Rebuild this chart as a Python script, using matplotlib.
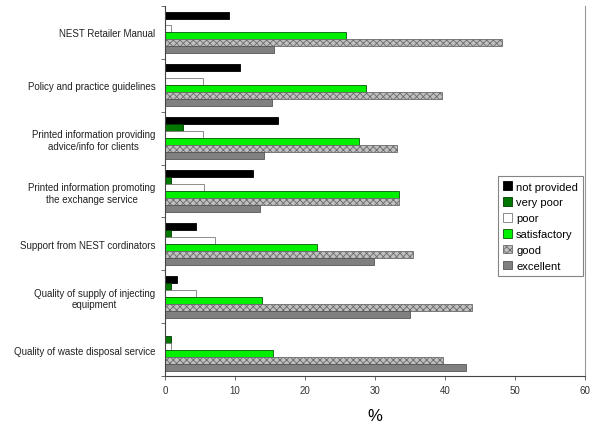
import matplotlib
matplotlib.use("Agg")
import matplotlib.pyplot as plt
import numpy as np
from matplotlib.patches import Patch

plt.rcParams['font.family'] = ['Liberation Sans', 'DejaVu Sans']
plt.rcParams['hatch.linewidth'] = 0.6

categories = [
    "NEST Retailer Manual",
    "Policy and practice guidelines",
    "Printed information providing\nadvice/info for clients",
    "Printed information promoting\nthe exchange service",
    "Support from NEST cordinators",
    "Quality of supply of injecting\nequipment",
    "Quality of waste disposal service",
]
series_names = ["not provided", "very poor", "poor", "satisfactory", "good", "excellent"]

not_provided = [9.2, 10.7, 16.1, 12.6, 4.4, 1.7, 0.0]
very_poor    = [0.0, 0.0, 2.6, 0.85, 0.85, 0.85, 0.85]
poor         = [0.9, 5.4, 5.4, 5.5, 7.2, 4.4, 0.85]
satisfactory = [25.8, 28.7, 27.7, 33.4, 21.7, 13.9, 15.4]
good         = [48.2, 39.5, 33.1, 33.4, 35.4, 43.8, 39.7]
excellent    = [15.6, 15.3, 14.2, 13.5, 29.9, 35.0, 43.0]

values = [not_provided, very_poor, poor, satisfactory, good, excellent]

styles = [
    dict(facecolor="#000000", edgecolor="#000000", hatch=None),
    dict(facecolor="#007800", edgecolor="#003c00", hatch=None),
    dict(facecolor="#ffffff", edgecolor="#7a7a7a", hatch=None),
    dict(facecolor="#00f000", edgecolor="#0a5a0a", hatch=None),
    dict(facecolor="#c0c0c0", edgecolor="#6a6a6a", hatch="xxxxx"),
    dict(facecolor="#808080", edgecolor="#555555", hatch=None),
]

fig = plt.figure(figsize=(6.0, 4.39), dpi=100)
ax = fig.add_axes([0.275, 0.141, 0.700, 0.843])

n = len(series_names)
h = 0.132
y = np.arange(len(categories))
for j, (name, vals, st) in enumerate(zip(series_names, values, styles)):
    ax.barh(y + (j - (n - 1) / 2) * h, vals, height=h, label=name,
            facecolor=st["facecolor"], edgecolor=st["edgecolor"],
            hatch=st["hatch"], linewidth=0.6)

ax.set_ylim(len(categories) - 0.5, -0.5)
ax.set_xlim(0, 60)
ax.set_xticks(np.arange(0, 61, 10))
ax.tick_params(axis='x', labelsize=7, length=3, width=0.6, color="#555555", labelcolor="#333333")

ax.set_yticks(np.arange(-0.5, len(categories), 1.0))
ax.set_yticklabels([])
ax.tick_params(axis='y', which='major', length=3, width=0.6, color="#555555")
ax.set_yticks(y, minor=True)
ax.set_yticklabels(categories, minor=True, fontsize=7, color="#222222",
                   multialignment='center')
ax.tick_params(axis='y', which='minor', length=0, pad=7)

ax.set_xlabel("%", fontsize=12, labelpad=9)

for s in ["left", "bottom"]:
    ax.spines[s].set_color("#444444")
    ax.spines[s].set_linewidth(0.8)
ax.spines["right"].set_color("#999999")
ax.spines["right"].set_linewidth(0.8)
ax.spines["top"].set_visible(False)

handles = [Patch(facecolor=st["facecolor"], edgecolor=st["edgecolor"],
                 hatch=st["hatch"], linewidth=0.6) for st in styles]
leg = ax.legend(handles, series_names, loc="center right", bbox_to_anchor=(0.995, 0.405),
                fontsize=8, frameon=True, fancybox=False, handlelength=0.8,
                handleheight=0.8, handletextpad=0.4, borderpad=0.45, labelspacing=0.52,
                borderaxespad=0.0)
leg.get_frame().set_edgecolor("#666666")
leg.get_frame().set_linewidth(0.8)

fig.savefig("out.png", dpi=100)
